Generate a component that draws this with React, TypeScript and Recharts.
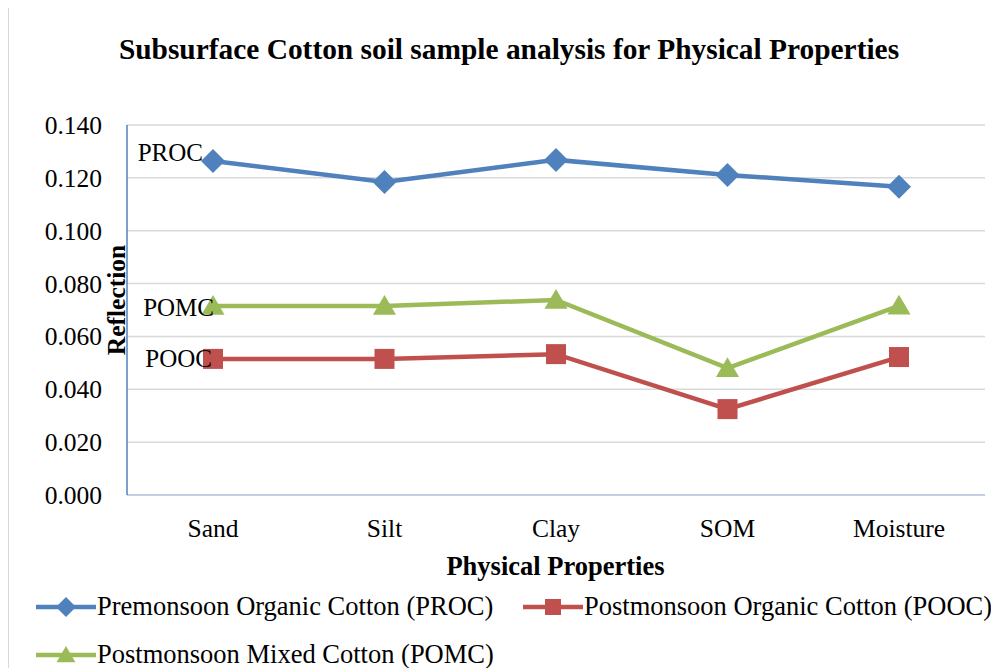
import React from 'react';
import { LineChart, Line, XAxis, YAxis, CartesianGrid, LabelList } from 'recharts';

const categories = ['Sand', 'Silt', 'Clay', 'SOM', 'Moisture'];
const proc = [0.1264, 0.1184, 0.1268, 0.1211, 0.1166];
const pooc = [0.0515, 0.0515, 0.0533, 0.0325, 0.0522];
const pomc = [0.0715, 0.0715, 0.0738, 0.048, 0.0716];
const yTicks = [0, 0.02, 0.04, 0.06, 0.08, 0.1, 0.12, 0.14];

const data = categories.map((name, i) => ({ name, proc: proc[i], pooc: pooc[i], pomc: pomc[i] }));

const FONT = "'Liberation Serif', 'Times New Roman', serif";
const BLUE = '#4f81bd';
const RED = '#c0504d';
const GREEN = '#9bbb59';

type Shape = 'diamond' | 'square' | 'triangle';

const marker = (shape: Shape, cx: number, cy: number, color: string, s: number) => {
  if (shape === 'diamond') {
    return <polygon points={`${cx},${cy - s} ${cx + s},${cy} ${cx},${cy + s} ${cx - s},${cy}`} fill={color} />;
  }
  if (shape === 'square') {
    return <rect x={cx - s} y={cy - s} width={s * 2} height={s * 2} fill={color} />;
  }
  return <polygon points={`${cx},${cy - s} ${cx + s * 1.05},${cy + s * 0.8} ${cx - s * 1.05},${cy + s * 0.8}`} fill={color} />;
};

const makeDot = (shape: Shape, color: string, s: number) => (props: any) => {
  const { cx, cy, index } = props;
  if (cx == null || cy == null) return <g key={index} />;
  return <g key={index}>{marker(shape, cx, cy, color, s)}</g>;
};

// only the first point carries the short series name
const makeLabel = (text: string, dx: number, dy: number) => (props: any) => {
  const { x, y, index } = props;
  if (index !== 0) return null;
  return (
    <text x={x + dx} y={y + dy} textAnchor="end" fontFamily={FONT} fontSize={25} fill="#000">
      {text}
    </text>
  );
};

const series = [
  { key: 'proc', name: 'Premonsoon Organic Cotton (PROC)', short: 'PROC', color: BLUE, shape: 'diamond' as Shape, size: 12, dx: -10, dy: 0 },
  { key: 'pooc', name: 'Postmonsoon Organic Cotton (POOC)', short: 'POOC', color: RED, shape: 'square' as Shape, size: 10, dx: -1, dy: 8 },
  { key: 'pomc', name: 'Postmonsoon Mixed Cotton (POMC)', short: 'POMC', color: GREEN, shape: 'triangle' as Shape, size: 11, dx: 1, dy: 10 },
];

const legendPos = [
  { left: 27, top: 583 },
  { left: 514, top: 583 },
  { left: 27, top: 631 },
];

const ReflectionLabel = (props: any) => {
  const vb = props.viewBox;
  const x = vb.x + vb.width - 11;
  const y = vb.y + vb.height / 2 - 10;
  return (
    <text
      x={x}
      y={y}
      transform={`rotate(-90 ${x} ${y})`}
      textAnchor="middle"
      dominantBaseline="central"
      fontFamily={FONT}
      fontSize={25.5}
      fontWeight="bold"
      fill="#000"
    >
      Reflection
    </text>
  );
};

export default function App() {
  return (
    <div style={{ position: 'relative', width: 991, height: 660, fontFamily: FONT, background: '#fff' }}>
      <div style={{ position: 'absolute', left: 0, top: 0, width: 1, height: 660, background: '#d9d9d9' }} />
      <div
        style={{
          position: 'absolute',
          left: 0,
          width: 1002,
          top: 25,
          textAlign: 'center',
          fontSize: 29.4,
          fontWeight: 'bold',
        }}
      >
        Subsurface Cotton soil sample analysis for Physical Properties
      </div>
      <LineChart width={991} height={660} data={data} margin={{ top: 117, right: 14, left: 39, bottom: 113 }}>
        <CartesianGrid vertical={false} stroke="#d9d9d9" strokeWidth={1.5} />
        <XAxis
          dataKey="name"
          height={60}
          padding={{ left: 86, right: 86 }}
          tickSize={0}
          tickMargin={24}
          axisLine={{ stroke: '#b9c9e0', strokeWidth: 1.5 }}
          tickLine={false}
          interval={0}
          tick={{ fontFamily: FONT, fontSize: 25.5, fill: '#000' }}
        />
        <XAxis xAxisId="top" orientation="top" dataKey="name" height={0} tick={false} tickLine={false} axisLine={{ stroke: BLUE, strokeWidth: 1.5 }} />
        <YAxis
          width={80}
          domain={[0, 0.14]}
          ticks={yTicks}
          interval={0}
          tickFormatter={(v: number) => v.toFixed(3)}
          tickSize={0}
          tickMargin={25}
          tickLine={false}
          axisLine={{ stroke: BLUE, strokeWidth: 1.5 }}
          tick={{ fontFamily: FONT, fontSize: 25.5, fill: '#000' }}
          label={<ReflectionLabel />}
        />
        <YAxis yAxisId="right" orientation="right" width={0} tick={false} tickLine={false} axisLine={{ stroke: BLUE, strokeWidth: 1.5 }} />
        {series.map((s) => (
          <Line
            key={s.key}
            dataKey={s.key}
            name={s.name}
            stroke={s.color}
            strokeWidth={4.5}
            dot={makeDot(s.shape, s.color, s.size)}
            activeDot={false}
            isAnimationActive={false}
          >
            <LabelList dataKey={s.key} content={makeLabel(s.short, s.dx, s.dy)} />
          </Line>
        ))}
      </LineChart>
      <div
        style={{
          position: 'absolute',
          left: 0,
          width: 1095,
          top: 543,
          textAlign: 'center',
          fontSize: 26.5,
          fontWeight: 'bold',
        }}
      >
        Physical Properties
      </div>
      {series.map((s, i) => (
        <div
          key={s.key}
          style={{
            position: 'absolute',
            left: legendPos[i].left,
            top: legendPos[i].top,
            display: 'flex',
            alignItems: 'center',
            fontSize: 26.5,
            whiteSpace: 'nowrap',
          }}
        >
          <svg width={62} height={26}>
            <line x1={1} y1={13} x2={61} y2={13} stroke={s.color} strokeWidth={4.5} />
            {marker(s.shape, 31, 13, s.color, s.size - 2)}
          </svg>
          <span>{s.name}</span>
        </div>
      ))}
    </div>
  );
}
